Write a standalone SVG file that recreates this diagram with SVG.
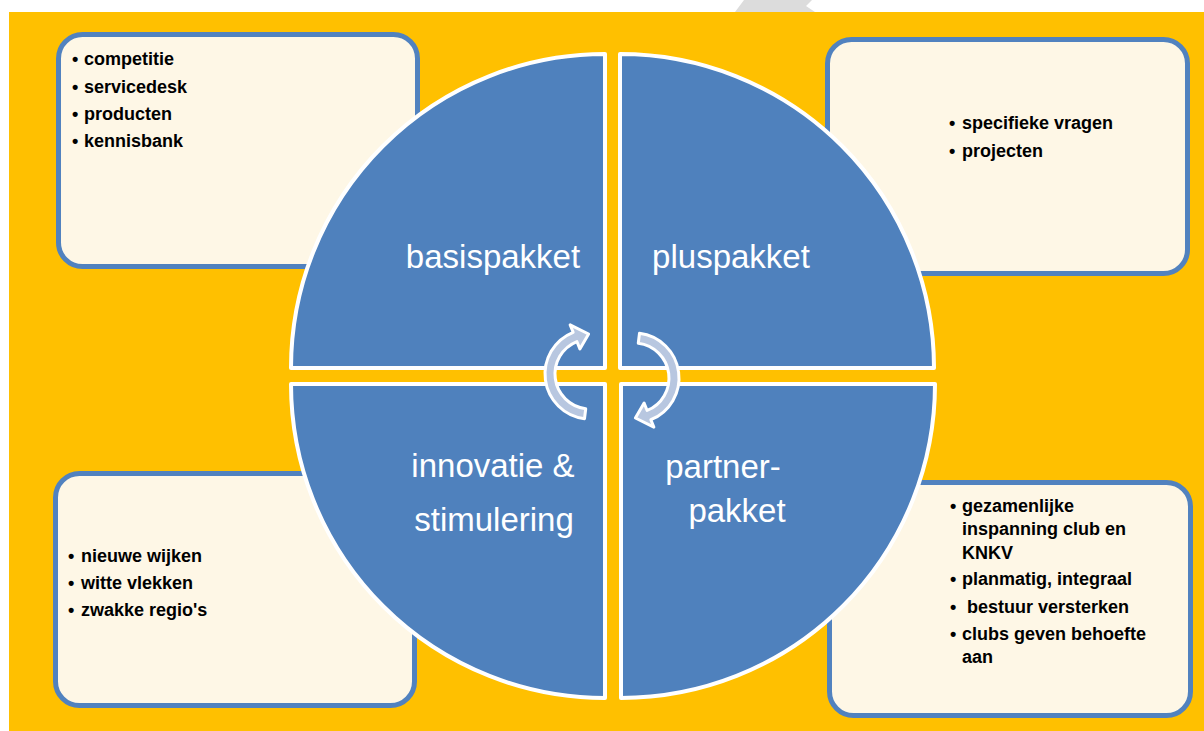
<svg xmlns="http://www.w3.org/2000/svg" width="1204" height="731" viewBox="0 0 1204 731">
<style>
.box{fill:#FEF7E6;stroke:#5182BF;stroke-width:5}
.q{fill:#4F81BD;stroke:#FFFFFF;stroke-width:4;stroke-linejoin:round}
.lbl{font-family:"Liberation Sans",Arial,sans-serif;font-size:33px;fill:#FFFFFF;text-anchor:middle}
.t{font-family:"Liberation Sans",Arial,sans-serif;font-size:18px;font-weight:bold;fill:#000000}
.arr{fill:#B8C7E0;stroke:#FFFFFF;stroke-width:3;stroke-linejoin:round}
</style>
<defs>
<path id="arrow" class="arr" d="M584.52,418.66 A45,45 0 0 1 573.14,332.28 L570.15,324.86 L588.6,334.02 L579.89,348.97 L576.89,341.55 A35,35 0 0 0 585.73,408.74 Z"/>
</defs>
<rect x="0" y="0" width="1204" height="731" fill="#FFFFFF"/>
<polygon points="744,0 812,0 806,6 815,12 735,12" fill="#DCDCDC"/>
<rect x="9" y="12" width="1195" height="719" fill="#FFC000"/>

<g id="box-basis">
<rect class="box" x="58.5" y="34.5" width="359" height="232" rx="24"/>
<text class="t" x="72" y="65">•</text><text class="t" x="84" y="65">competitie</text>
<text class="t" x="72" y="93">•</text><text class="t" x="84" y="93">servicedesk</text>
<text class="t" x="72" y="120">•</text><text class="t" x="84" y="120">producten</text>
<text class="t" x="72" y="147">•</text><text class="t" x="84" y="147">kennisbank</text>
</g>

<g id="box-plus">
<rect class="box" x="827.5" y="39.5" width="360" height="234" rx="24"/>
<text class="t" x="949" y="129">•</text><text class="t" x="962" y="129">specifieke vragen</text>
<text class="t" x="949" y="157">•</text><text class="t" x="962" y="157">projecten</text>
</g>

<g id="box-innovatie">
<rect class="box" x="55.5" y="473.5" width="359" height="232" rx="24"/>
<text class="t" x="68" y="562">•</text><text class="t" x="81" y="562">nieuwe wijken</text>
<text class="t" x="68" y="589">•</text><text class="t" x="81" y="589">witte vlekken</text>
<text class="t" x="68" y="616">•</text><text class="t" x="81" y="616">zwakke regio's</text>
</g>

<g id="box-partner">
<rect class="box" x="829.5" y="482.5" width="361" height="233" rx="24"/>
<text class="t" x="950" y="512">•</text><text class="t" x="962" y="512">gezamenlijke</text>
<text class="t" x="962" y="535">inspanning club en</text>
<text class="t" x="962" y="559">KNKV</text>
<text class="t" x="950" y="585">•</text><text class="t" x="962" y="585">planmatig, integraal</text>
<text class="t" x="950" y="613">•</text><text class="t" x="967" y="613">bestuur versterken</text>
<text class="t" x="950" y="640">•</text><text class="t" x="962" y="640">clubs geven behoefte</text>
<text class="t" x="962" y="663">aan</text>
</g>

<g id="q-basispakket">
<path class="q" d="M605,368 L605,54 A314,314 0 0 0 291,368 Z"/>
<text class="lbl" x="493" y="268">basispakket</text>
</g>
<g id="q-pluspakket">
<path class="q" d="M620,368 L620,54 A314,314 0 0 1 934,368 Z"/>
<text class="lbl" x="731" y="268">pluspakket</text>
</g>
<g id="q-innovatie">
<path class="q" d="M605,384 L605,698 A314,314 0 0 1 291,384 Z"/>
<text class="lbl" x="493" y="477">innovatie &amp;</text>
<text class="lbl" x="494" y="531">stimulering</text>
</g>
<g id="q-partnerpakket">
<path class="q" d="M621,384 L621,698 A314,314 0 0 0 935,384 Z"/>
<text class="lbl" x="723" y="478">partner-</text>
<text class="lbl" x="737" y="522">pakket</text>
</g>

<g id="connectors">
<use href="#arrow"/>
<use href="#arrow" transform="rotate(180 612 376)"/>
</g>
</svg>
